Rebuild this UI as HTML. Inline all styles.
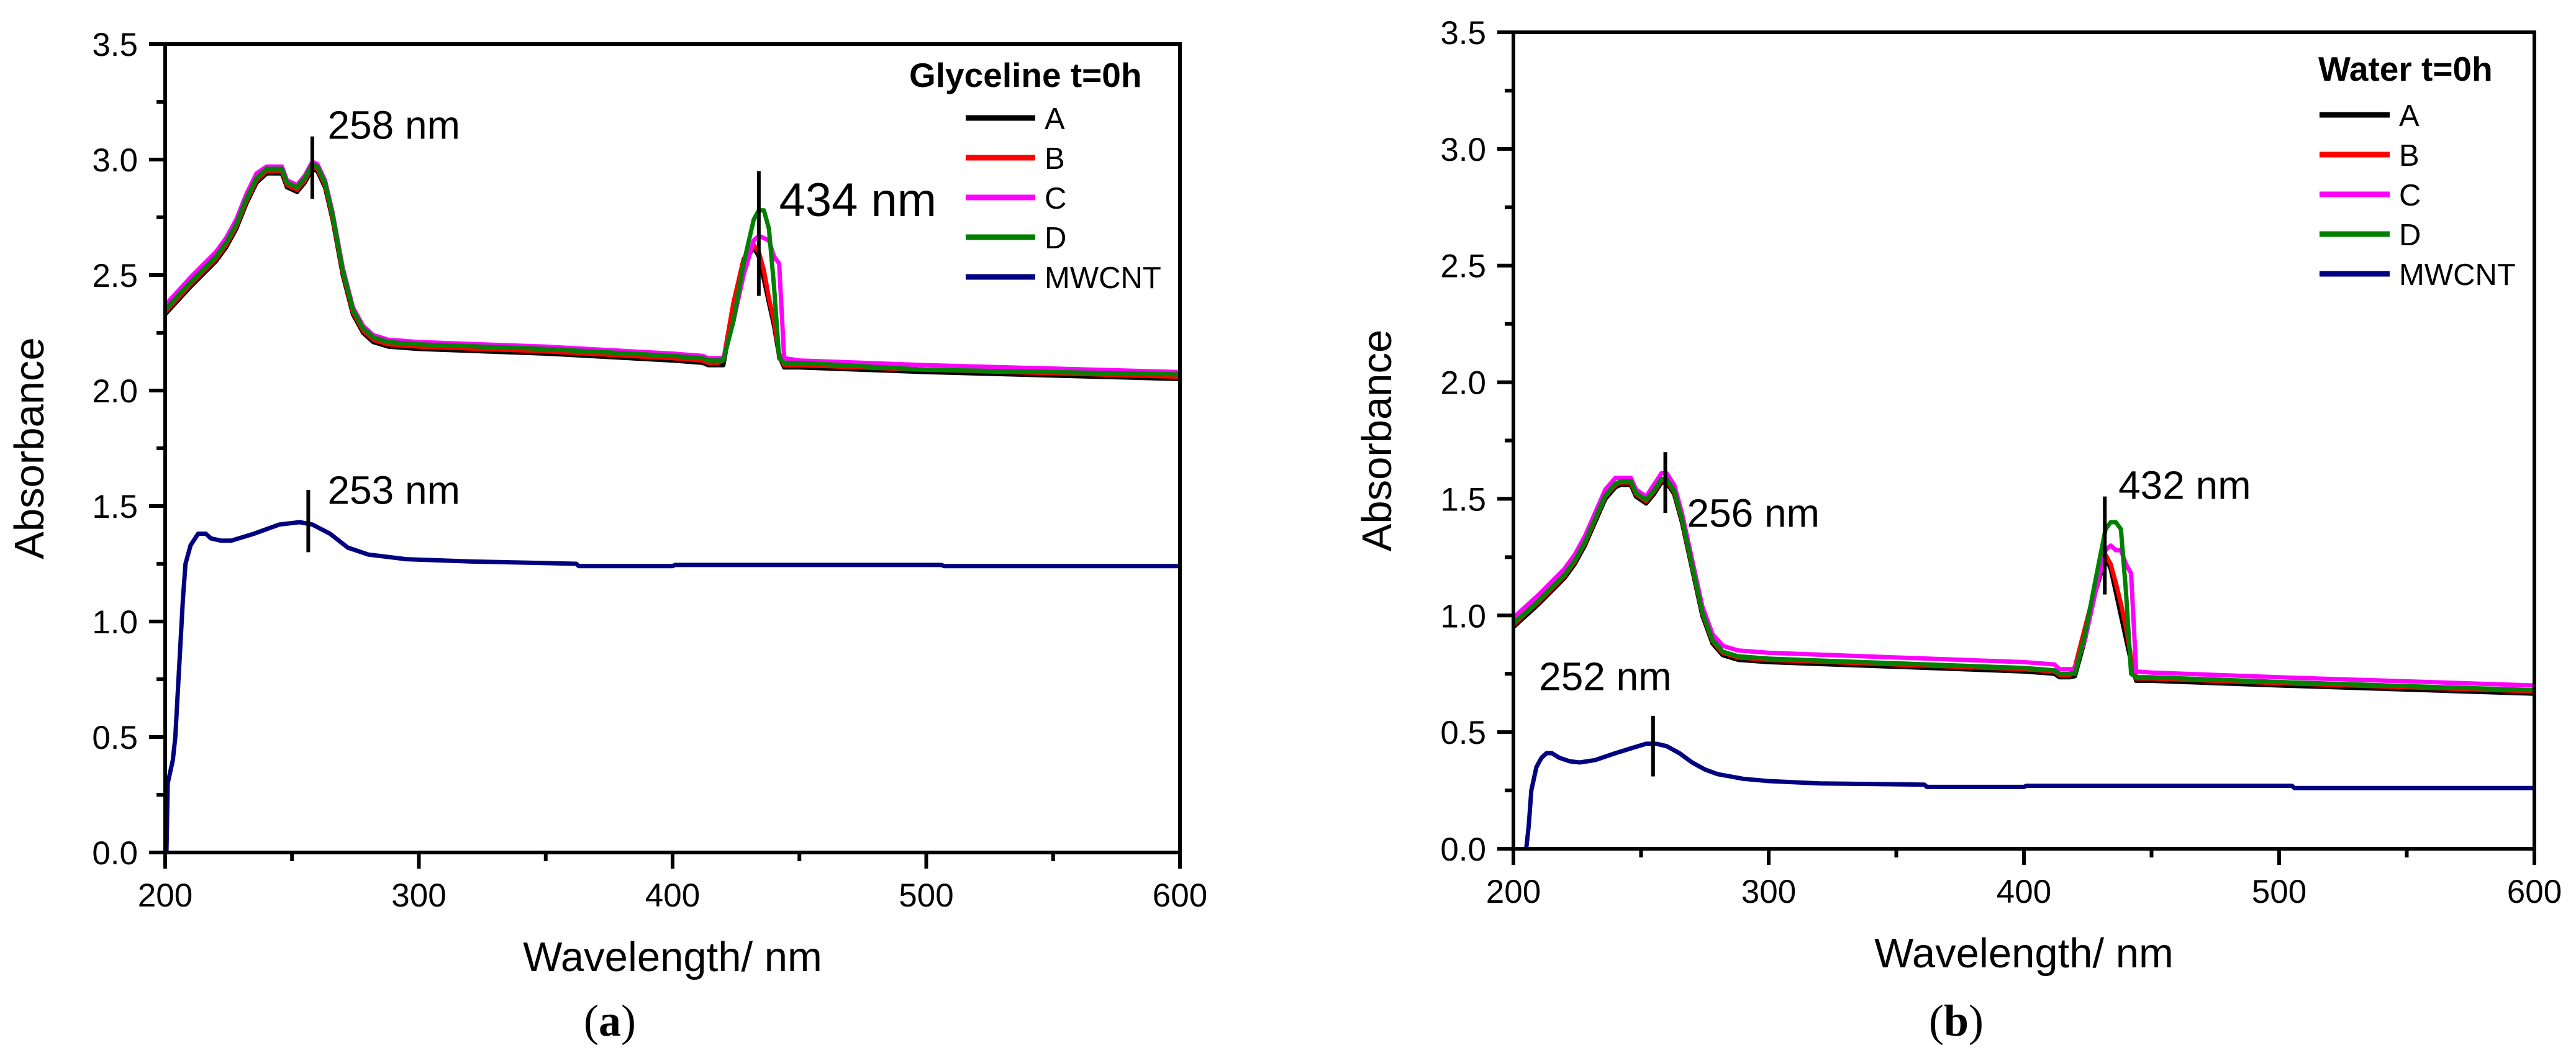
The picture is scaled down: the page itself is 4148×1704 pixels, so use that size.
<!DOCTYPE html>
<html><head><meta charset="utf-8">
<style>
html,body{margin:0;padding:0;background:#fff;}
svg{display:block;}
text{font-family:"Liberation Sans",Arial,sans-serif;fill:#000;}
</style></head>
<body>
<svg id="fig" width="4148" height="1704" viewBox="0 0 4148 1704" xmlns="http://www.w3.org/2000/svg">
<rect x="0" y="0" width="4148" height="1704" fill="#fff"/>
</svg>
<script>
// ---------- data ----------
const xTicks = [200, 300, 400, 500, 600];
const yTicks = [0.0, 0.5, 1.0, 1.5, 2.0, 2.5, 3.0, 3.5];
const seriesNames = ["A", "B", "C", "D", "MWCNT"];
const seriesColors = ["#000000", "#ff0000", "#ff00ff", "#008000", "#000080"];

const wlUpper = [200,210,220,224,228,232,236,240,242,246,248,252,255,258,260,263,266,270,274,278,282,288,300,350,400,412,414,418,420,424,428,432,434,436,438,440,442,444,450,500,600];

const glyA = [2.33,2.45,2.56,2.62,2.70,2.81,2.90,2.94,2.94,2.94,2.88,2.86,2.90,2.96,2.95,2.88,2.74,2.50,2.33,2.25,2.21,2.19,2.18,2.16,2.13,2.12,2.11,2.11,2.11,2.35,2.55,2.62,2.58,2.48,2.38,2.28,2.15,2.10,2.10,2.08,2.05];
const glyB = [2.34,2.46,2.57,2.63,2.71,2.82,2.91,2.95,2.95,2.95,2.89,2.87,2.91,2.97,2.96,2.89,2.75,2.51,2.34,2.26,2.22,2.20,2.19,2.17,2.14,2.13,2.12,2.12,2.13,2.38,2.57,2.63,2.60,2.52,2.40,2.30,2.16,2.11,2.11,2.09,2.06];
const glyC = [2.37,2.49,2.60,2.66,2.74,2.85,2.94,2.97,2.97,2.97,2.91,2.89,2.93,2.99,2.98,2.91,2.77,2.53,2.36,2.28,2.24,2.22,2.21,2.19,2.16,2.15,2.14,2.14,2.14,2.30,2.50,2.65,2.67,2.66,2.65,2.58,2.55,2.14,2.13,2.11,2.08];
const glyD = [2.35,2.47,2.58,2.64,2.72,2.83,2.92,2.96,2.96,2.96,2.90,2.88,2.92,2.98,2.97,2.90,2.76,2.52,2.35,2.27,2.23,2.21,2.20,2.18,2.15,2.14,2.13,2.13,2.13,2.30,2.55,2.74,2.78,2.78,2.70,2.45,2.14,2.12,2.12,2.09,2.07];
const glyMwWl = [200.5,201,203,204,205,206,207,208,210,213,216,218,222,226,235,245,253,258,265,272,280,295,320,362,363,400,401,506,507,600];
const glyMw = [0,0.3,0.4,0.5,0.7,0.9,1.1,1.25,1.33,1.38,1.38,1.36,1.35,1.35,1.38,1.42,1.43,1.42,1.38,1.32,1.29,1.27,1.26,1.25,1.24,1.24,1.245,1.245,1.24,1.24];

const watA = [0.95,1.05,1.16,1.22,1.30,1.40,1.50,1.55,1.56,1.56,1.51,1.48,1.52,1.57,1.57,1.52,1.40,1.20,1.00,0.88,0.83,0.81,0.80,0.78,0.76,0.75,0.735,0.735,0.74,0.90,1.10,1.25,1.20,1.10,1.00,0.90,0.80,0.72,0.72,0.70,0.665];
const watB = [0.96,1.06,1.17,1.23,1.31,1.41,1.51,1.56,1.57,1.57,1.52,1.49,1.53,1.58,1.58,1.53,1.41,1.21,1.01,0.89,0.84,0.82,0.81,0.79,0.77,0.76,0.745,0.745,0.78,0.95,1.12,1.26,1.22,1.14,1.05,0.95,0.82,0.73,0.73,0.71,0.675];
const watC = [0.99,1.09,1.20,1.26,1.34,1.44,1.54,1.59,1.59,1.59,1.54,1.51,1.56,1.61,1.61,1.56,1.44,1.24,1.04,0.92,0.87,0.85,0.84,0.82,0.80,0.79,0.77,0.77,0.77,0.90,1.10,1.28,1.30,1.28,1.28,1.22,1.18,0.76,0.755,0.735,0.70];
const watD = [0.965,1.065,1.175,1.235,1.315,1.415,1.515,1.565,1.575,1.575,1.525,1.495,1.535,1.585,1.585,1.535,1.415,1.215,1.015,0.895,0.845,0.825,0.815,0.795,0.775,0.765,0.75,0.75,0.75,0.92,1.15,1.37,1.40,1.40,1.37,1.10,0.75,0.735,0.735,0.715,0.68];
const watMwWl = [205,206,207,209,211,213,215,218,222,226,232,240,246,252,256,260,265,270,275,280,290,300,320,361,362,400,401,505,506,600];
const watMw = [0,0.1,0.25,0.35,0.39,0.41,0.41,0.39,0.375,0.37,0.38,0.41,0.43,0.45,0.45,0.44,0.41,0.37,0.34,0.32,0.30,0.29,0.28,0.275,0.265,0.265,0.27,0.27,0.26,0.26];

// annotations: [wavelength, yLow, yHigh], labels: [text, x, y]
const glyMarkWl = [258, 434, 256.4];
const glyMarkLo = [2.83, 2.41, 1.30];
const glyMarkHi = [3.10, 2.95, 1.57];
const glyLabels = ["258 nm", "434 nm", "253 nm"];
const glyLabelWl = [264, 442, 264];
const glyLabelY = [3.09, 2.755, 1.51];

const watMarkWl = [259.5, 431.7, 254.7];
const watMarkLo = [1.44, 1.09, 0.31];
const watMarkHi = [1.70, 1.51, 0.57];
const watLabels = ["256 nm", "432 nm", "252 nm"];
const watLabelWl = [268, 437, 210];
const watLabelY = [1.38, 1.50, 0.68];

// ---------- drawing ----------
const NS = "http://www.w3.org/2000/svg";
const svg = document.getElementById("fig");
function el(tag, attrs, parent) {
  const e = document.createElementNS(NS, tag);
  for (const k in attrs) e.setAttribute(k, attrs[k]);
  (parent || svg).appendChild(e);
  return e;
}

function panel(cfg) {
  const g = el("g", {});
  
  
  const X = v => cfg.x0 + (v - 200) / 400 * (cfg.x1 - cfg.x0);
  const Y = v => cfg.y0 - v / 3.5 * (cfg.y0 - cfg.y1);

  // series
  const cp = el("clipPath", {id: cfg.name + "-clip"}, g);
  el("rect", {x: cfg.x0, y: cfg.y1, width: cfg.x1 - cfg.x0, height: cfg.y0 - cfg.y1}, cp);
  const sg = el("g", {"clip-path": "url(#" + cfg.name + "-clip)"}, g);
  cfg.series.forEach((s, i) => {
    const wl = s.wl, vals = s.vals;
    let d = "";
    for (let j = 0; j < wl.length; j++) d += (j ? "L" : "M") + X(wl[j]).toFixed(1) + "," + Y(vals[j]).toFixed(1);
    const p = el("path", {d: d, fill: "none", stroke: seriesColors[i], "stroke-width": 7, "stroke-linejoin": "round"}, sg);
    
    
  });

  // frame
  const fr = el("rect", {x: cfg.x0, y: cfg.y1, width: cfg.x1 - cfg.x0, height: cfg.y0 - cfg.y1, fill: "none", stroke: "#000", "stroke-width": 6}, g);
  
  

  // x ticks
  for (let v = 200; v <= 600; v += 50) {
    const major = v % 100 === 0;
    el("line", {x1: X(v), x2: X(v), y1: cfg.y0, y2: cfg.y0 + (major ? 26 : 14), stroke: "#000", "stroke-width": 6}, g);
  }
  xTicks.forEach(v => {
    const t = el("text", {x: X(v), y: cfg.y0 + 87, "font-size": 53, "text-anchor": "middle"}, g);
    t.textContent = String(v);
    
    
  });
  // y ticks
  for (let k = 0; k <= 14; k++) {
    const v = k * 0.25;
    const major = k % 2 === 0;
    el("line", {x1: cfg.x0 - (major ? 26 : 14), x2: cfg.x0, y1: Y(v), y2: Y(v), stroke: "#000", "stroke-width": 6}, g);
  }
  yTicks.forEach(v => {
    const t = el("text", {x: cfg.x0 - 44, y: Y(v) + 19, "font-size": 53, "text-anchor": "end"}, g);
    t.textContent = v.toFixed(1);
    
    
  });

  // axis titles
  const xt = el("text", {x: (cfg.x0 + cfg.x1) / 2, y: cfg.xTitleY, "font-size": 67, "text-anchor": "middle"}, g);
  xt.textContent = "Wavelength/ nm";
  
  
  const yt = el("text", {x: 0, y: 0, "font-size": 67, "text-anchor": "middle", transform: "translate(" + cfg.yTitleX + "," + ((cfg.y0 + cfg.y1) / 2) + ") rotate(-90)"}, g);
  yt.textContent = "Absorbance";
  
  

  // annotations
  cfg.markWl.forEach((w, i) => {
    const l = el("line", {x1: X(w), x2: X(w), y1: Y(cfg.markLo[i]), y2: Y(cfg.markHi[i]), stroke: "#000", "stroke-width": 6}, g);
    
    
    const t = el("text", {x: X(cfg.labelWl[i]), y: Y(cfg.labelY[i]), "font-size": cfg.labelSizes[i]}, g);
    t.textContent = cfg.labels[i];
    
    
  });

  // legend
  const lg = el("g", {}, g);
  
  
  const lt = el("text", {x: cfg.leg.titleX, y: cfg.leg.titleY, "font-size": 55, "font-weight": "bold"}, lg);
  lt.textContent = cfg.leg.title;
  
  
  seriesNames.forEach((n, i) => {
    const yy = cfg.leg.rowY + i * cfg.leg.rowStep;
    const ln = el("line", {x1: cfg.leg.lineX0, x2: cfg.leg.lineX1, y1: yy, y2: yy, stroke: seriesColors[i], "stroke-width": 9}, lg);
    
    
    const tx = el("text", {x: cfg.leg.labelX, y: yy + 18, "font-size": 49}, lg);
    tx.textContent = n;
    
    
  });

  // panel label
  const pl = el("text", {x: cfg.tagX, y: 1668, "font-size": 72, "text-anchor": "middle", style: "font-family:'Liberation Serif',serif"}, g);
  const t1 = el("tspan", {}, pl); t1.textContent = "(";
  const t2 = el("tspan", {"font-weight": "bold"}, pl); t2.textContent = cfg.tag;
  const t3 = el("tspan", {}, pl); t3.textContent = ")";
  
  
}

panel({
  name: "panel-glyceline", x0: 266, x1: 1900, y0: 1373, y1: 71,
  xTitleY: 1564, yTitleX: 70, tag: "a", tagX: 982,
  series: [{wl: wlUpper, vals: glyA}, {wl: wlUpper, vals: glyB}, {wl: wlUpper, vals: glyC}, {wl: wlUpper, vals: glyD}, {wl: glyMwWl, vals: glyMw}],
  markWl: glyMarkWl, markLo: glyMarkLo, markHi: glyMarkHi,
  labels: glyLabels, labelWl: glyLabelWl, labelY: glyLabelY, labelSizes: [64, 76, 64],
  leg: {title: "Glyceline t=0h", titleX: 1464, titleY: 140, lineX0: 1555, lineX1: 1667, labelX: 1682, rowY: 190, rowStep: 64}
});
panel({
  name: "panel-water", x0: 2437, x1: 4081, y0: 1367, y1: 52,
  xTitleY: 1558, yTitleX: 2240, tag: "b", tagX: 3150,
  series: [{wl: wlUpper, vals: watA}, {wl: wlUpper, vals: watB}, {wl: wlUpper, vals: watC}, {wl: wlUpper, vals: watD}, {wl: watMwWl, vals: watMw}],
  markWl: watMarkWl, markLo: watMarkLo, markHi: watMarkHi,
  labels: watLabels, labelWl: watLabelWl, labelY: watLabelY, labelSizes: [64, 64, 64],
  leg: {title: "Water t=0h", titleX: 3733, titleY: 130, lineX0: 3735, lineX1: 3848, labelX: 3863, rowY: 185, rowStep: 64}
});
</script>
</body></html>
